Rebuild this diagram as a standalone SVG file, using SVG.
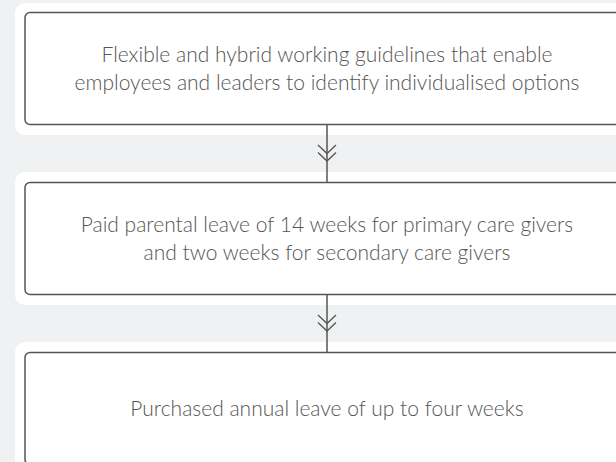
<svg xmlns="http://www.w3.org/2000/svg" width="616" height="462" viewBox="0 0 616 462">
<style>
.bg{fill:#f0f1f3}
.panel{fill:#ffffff}
.box{fill:#ffffff;stroke:#555555;stroke-width:1.5}
.lbl{font-family:"Lato","Noto Sans","Liberation Sans",sans-serif;font-weight:300;font-size:21px;fill:#555555;text-anchor:middle}
.edge{fill:none;stroke:#555555;stroke-width:1.5}
.chev{fill:none;stroke:#555555;stroke-width:1.3}
</style>
<defs>
<marker id="dbl" markerUnits="userSpaceOnUse" viewBox="-10 -10 20 20" refX="0" refY="0" markerWidth="20" markerHeight="20" orient="auto" overflow="visible">
<path class="chev" d="M-8.5,-9 L0,0 L-8.5,9 M-1,-9 L7.5,0 L-1,9"/>
</marker>
</defs>
<rect class="bg" x="0" y="0" width="616" height="462"/>
<g id="node1">
<rect class="panel" x="15" y="3" width="640" height="132" rx="10"/>
<rect class="box" x="25" y="12.5" width="620" height="112" rx="5"/>
<text class="lbl" x="327" y="62">Flexible and hybrid working guidelines that enable</text>
<text class="lbl" x="327" y="90">employees and leaders to identify individualised options</text>
</g>
<g id="node2">
<rect class="panel" x="15" y="172" width="640" height="133" rx="10"/>
<rect class="box" x="25" y="182.5" width="620" height="112" rx="5"/>
<text class="lbl" x="327" y="232">Paid parental leave of 14 weeks for primary care givers</text>
<text class="lbl" x="327" y="260">and two weeks for secondary care givers</text>
</g>
<g id="node3">
<rect class="panel" x="15" y="342" width="640" height="140" rx="10"/>
<rect class="box" x="25" y="352.5" width="620" height="112" rx="5"/>
<text class="lbl" x="327" y="416">Purchased annual leave of up to four weeks</text>
</g>
<g id="connectors">
<path class="edge" d="M327,124.5 L327,153.5 L327,182.5" marker-mid="url(#dbl)"/>
<path class="edge" d="M327,294.5 L327,323.5 L327,352.5" marker-mid="url(#dbl)"/>
</g>
</svg>
